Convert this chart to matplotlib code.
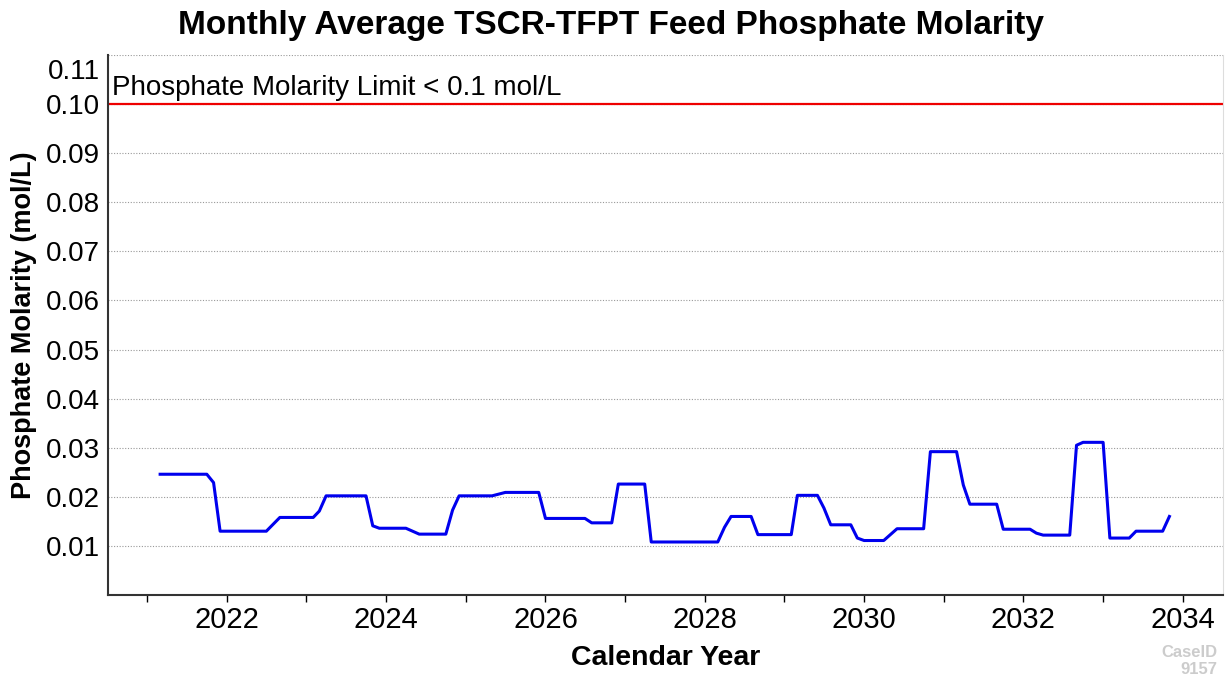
"""Monthly average TSCR-TFPT feed phosphate molarity"""
import matplotlib as mpl

mpl.use("Agg")
import matplotlib.pyplot as plt
import matplotlib.dates as mdates
import matplotlib.transforms as mtransforms

import pandas as pd
from datetime import datetime

plt.rcParams["font.family"] = ["Liberation Sans", "DejaVu Sans"]

# vertices of the monthly series (first of month)
months = [
    "2021-03", "2021-10", "2021-11", "2021-12", "2022-07", "2022-09",
    "2023-02", "2023-03", "2023-04", "2023-10", "2023-11", "2023-12",
    "2024-04", "2024-06", "2024-10", "2024-11", "2024-12", "2025-05",
    "2025-07", "2025-12", "2026-01", "2026-07", "2026-08", "2026-11",
    "2026-12", "2027-04", "2027-05", "2028-03", "2028-04", "2028-05",
    "2028-08", "2028-09", "2029-02", "2029-03", "2029-06", "2029-07",
    "2029-08", "2029-11", "2029-12", "2030-01", "2030-04", "2030-06",
    "2030-10", "2030-11", "2031-03", "2031-04", "2031-05", "2031-09",
    "2031-10", "2032-02", "2032-03", "2032-04", "2032-08", "2032-09",
    "2032-10", "2033-01", "2033-02", "2033-05", "2033-06", "2033-10",
    "2033-11",
]
molarity = [
    0.0246, 0.0246, 0.0229, 0.0130, 0.0130, 0.0158,
    0.0158, 0.0171, 0.0202, 0.0202, 0.0141, 0.0136,
    0.0136, 0.0124, 0.0124, 0.0173, 0.0202, 0.0202,
    0.0209, 0.0209, 0.0156, 0.0156, 0.0147, 0.0147,
    0.0226, 0.0226, 0.0108, 0.0108, 0.0138, 0.0160,
    0.0160, 0.0123, 0.0123, 0.0203, 0.0203, 0.0177,
    0.0143, 0.0143, 0.0116, 0.0111, 0.0111, 0.0135,
    0.0135, 0.0292, 0.0292, 0.0224, 0.0185, 0.0185,
    0.0134, 0.0134, 0.0126, 0.0122, 0.0122, 0.0305,
    0.0311, 0.0311, 0.0116, 0.0116, 0.0130, 0.0130,
    0.0160,
]
limit = 0.1
limit_label = "Phosphate Molarity Limit < 0.1 mol/L"
y_ticks = [0.01, 0.02, 0.03, 0.04, 0.05, 0.06, 0.07, 0.08, 0.09, 0.10, 0.11]

dates = pd.to_datetime(months, format="%Y-%m")

fig = plt.figure(figsize=(12.26, 6.79), dpi=100)
ax = fig.add_axes([0.0881, 0.1237, 0.9095, 0.7953])

ax.plot(dates, molarity, color="#0000ee", lw=2.2, zorder=3)
ax.axhline(limit, color="#ee0000", lw=1.6, zorder=2)

x0 = datetime(2020, 7, 5)
ax.set_xlim(x0, datetime(2034, 7, 5))
ax.set_ylim(0, 0.11)

ax.text(x0, limit, limit_label, fontsize=20, va="bottom", ha="left")
ax.texts[-1].set_transform(
    ax.transData + mtransforms.ScaledTranslation(0.04, 0.03, fig.dpi_scale_trans)
)

ax.set_yticks(y_ticks)
ax.set_yticklabels(["{:.2f}".format(v) for v in y_ticks])
ax.yaxis.grid(True, linestyle=(0, (1, 1.5)), color="#999999", lw=0.8)
ax.tick_params(axis="y", length=0, pad=6, labelsize=20)
# top label sits a little below its gridline in the reference
lbl = ax.get_yticklabels()[-1]
lbl.set_transform(
    lbl.get_transform() + mtransforms.ScaledTranslation(0, -0.14, fig.dpi_scale_trans)
)

ax.xaxis.set_major_locator(mdates.YearLocator(2))
ax.xaxis.set_minor_locator(mdates.YearLocator(1))
ax.xaxis.set_major_formatter(mdates.DateFormatter("%Y"))
ax.tick_params(axis="x", which="both", length=5, width=1, labelsize=21, pad=3)

for side in ("left", "bottom"):
    ax.spines[side].set_color("#333333")
    ax.spines[side].set_linewidth(1.5)
ax.spines["top"].set_visible(False)
ax.spines["right"].set_color("#dddddd")

ax.set_xlabel("Calendar Year", fontsize=20.5, fontweight="bold", labelpad=8)
ax.set_ylabel("Phosphate Molarity (mol/L)", fontsize=19.5, fontweight="bold", labelpad=6)
fig.suptitle(
    "Monthly Average TSCR-TFPT Feed Phosphate Molarity",
    fontsize=24, fontweight="bold", x=0.498, y=0.963, va="center",
)
fig.text(0.993, 0.003, "CaseID\n9157", ha="right", va="bottom",
         fontsize=12, fontweight="bold", color="#cccccc", linespacing=1.2)

fig.savefig("out.png", dpi=100)
